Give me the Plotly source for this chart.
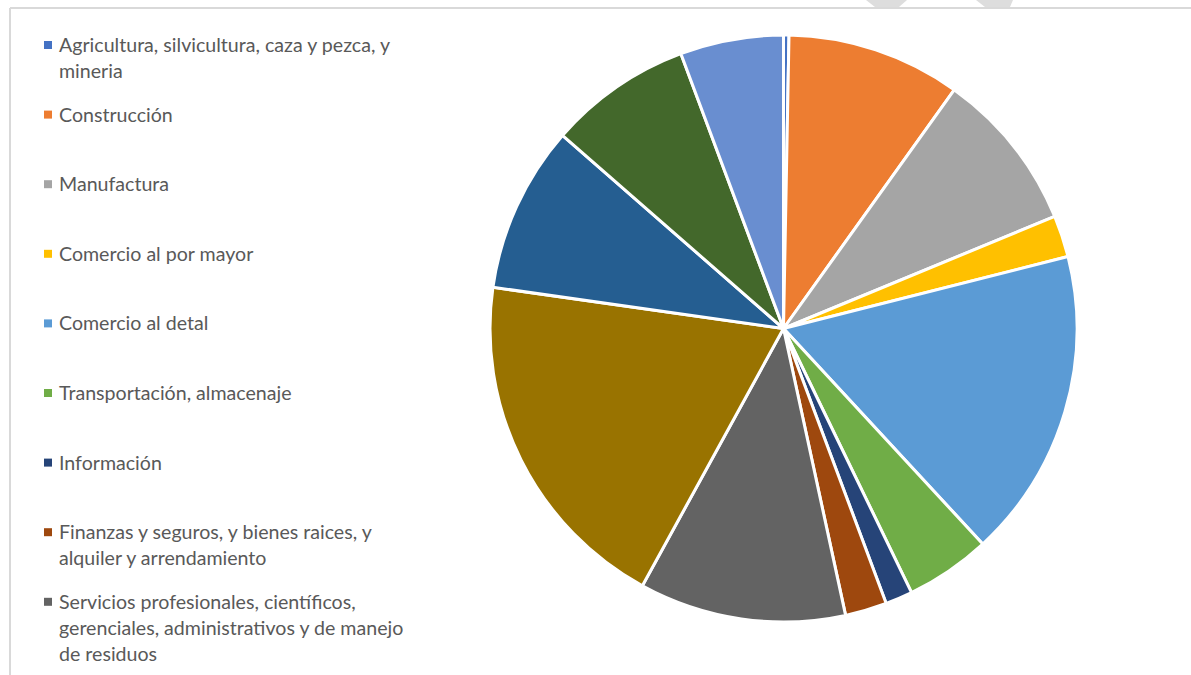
import textwrap
import plotly.graph_objects as go

# Sector shares (percent of total)
sectores = [
    "Agricultura, silvicultura, caza y pezca, y mineria",
    "Construcción",
    "Manufactura",
    "Comercio al por mayor",
    "Comercio al detal",
    "Transportación, almacenaje",
    "Información",
    "Finanzas y seguros, y bienes raices, y alquiler y arrendamiento",
    "Servicios profesionales, científicos, gerenciales, administrativos y de manejo de residuos",
    "Servicios educativos, de salud y asistencia social",
    "Artes, entretenimiento, recreación, alojamiento y servicios de alimentos",
    "Otros servicios, excepto administración pública",
    "Administración pública",
]
porcentajes = [0.3, 9.6, 8.9, 2.3, 17.1, 4.7, 1.5, 2.3, 11.4, 19.3, 9.2, 7.9, 5.7]
colores = [
    "#4472C4", "#ED7D31", "#A5A5A5", "#FFC000", "#5B9BD5", "#70AD47", "#264478",
    "#9E480E", "#636363", "#997300", "#255E91", "#43682B", "#698ED0",
]

W, H = 1191, 675
cx, cy, r = 783.5, 328.5, 293.5


def px(x):
    return x / W


def py(y):
    return 1 - y / H


fig = go.Figure(
    go.Pie(
        labels=sectores,
        values=porcentajes,
        sort=False,
        direction="clockwise",
        rotation=0,
        textinfo="none",
        hoverinfo="label+percent",
        marker=dict(colors=colores, line=dict(color="white", width=3)),
        domain=dict(x=[px(cx - r), px(cx + r)], y=[py(cy + r), py(cy - r)]),
        showlegend=False,
    )
)

# Legend drawn as text rows beside the pie
annotations = []
shapes = []
slot, line_h, y0 = 69.6, 26.0, 44.5
for i, (name, col) in enumerate(zip(sectores, colores)):
    lines = textwrap.wrap(name, width=42)
    top = y0 + i * slot
    if top + (len(lines) - 1) * line_h + 9 > H:
        break
    shapes.append(dict(
        type="rect", xref="paper", yref="paper",
        x0=px(44), x1=px(52), y0=py(top + 4.5), y1=py(top - 3.5),
        fillcolor=col, line=dict(width=0),
    ))
    for k, ln in enumerate(lines):
        annotations.append(dict(
            x=px(57), y=py(top + k * line_h), xref="paper", yref="paper",
            text=ln, showarrow=False, xanchor="left", yanchor="middle",
            font=dict(family="Lato", size=19.6, color="#595959"),
        ))

# Chart frame edges
shapes.append(dict(type="line", xref="paper", yref="paper",
                   x0=px(10), x1=1, y0=py(8), y1=py(8),
                   line=dict(color="#D9D9D9", width=2)))
shapes.append(dict(type="line", xref="paper", yref="paper",
                   x0=px(10), x1=px(10), y0=py(8), y1=0,
                   line=dict(color="#D9D9D9", width=2)))

# Light watermark strokes above the frame
for pts in ([(866, 0), (907, 0), (899, 7), (875, 7)],
            [(976, 0), (1013, 0), (1010, 7), (985, 7)]):
    path = "M " + " L ".join(f"{px(x):.5f},{py(y):.5f}" for x, y in pts) + " Z"
    shapes.append(dict(type="path", xref="paper", yref="paper", path=path,
                       fillcolor="#DDDDDD", line=dict(width=0)))

fig.update_layout(
    width=W, height=H,
    margin=dict(l=0, r=0, t=0, b=0),
    paper_bgcolor="white",
    plot_bgcolor="white",
    annotations=annotations,
    shapes=shapes,
)

fig.write_html("out.html")
